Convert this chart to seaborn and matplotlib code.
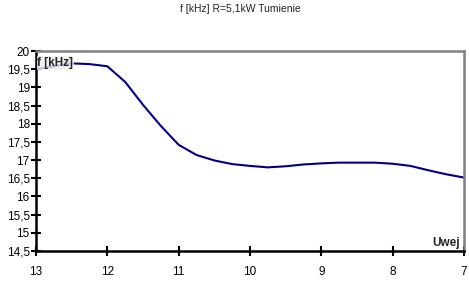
import matplotlib
matplotlib.use("Agg")
import matplotlib.pyplot as plt
import seaborn as sns
import pandas as pd

u_wej = [13, 12.75, 12.5, 12.25, 12, 11.75, 11.5, 11.25, 11, 10.75, 10.5, 10.25, 10,
         9.75, 9.5, 9.25, 9, 8.75, 8.5, 8.25, 8, 7.75, 7.5, 7.25, 7]
f_khz = [19.5, 19.58, 19.66, 19.64, 19.58, 19.15, 18.52, 17.94, 17.42, 17.14, 16.99, 16.89, 16.84,
         16.8, 16.83, 16.88, 16.91, 16.93, 16.93, 16.93, 16.9, 16.84, 16.72, 16.61, 16.52]
y_ticks = [14.5, 15, 15.5, 16, 16.5, 17, 17.5, 18, 18.5, 19, 19.5, 20]
x_ticks = [13, 12, 11, 10, 9, 8, 7]
title = "f [kHz] R=5,1kW Tumienie"

sns.set_style("white")
plt.rcParams['font.family'] = ['Liberation Sans', 'DejaVu Sans']

df = pd.DataFrame({"Uwej": u_wej, "f": f_khz})

fig = plt.figure(figsize=(4.69, 2.83), dpi=100)
ax = fig.add_axes([36/469, 32/283, (464-36)/469, 200/283])
sns.lineplot(data=df, x="Uwej", y="f", ax=ax, color="#000080", linewidth=1.5)

ax.set_xlim(13, 7)
ax.set_ylim(14.5, 20)
ax.set_xticks(x_ticks)
ax.set_xticklabels([str(v) for v in x_ticks])
ax.set_yticks(y_ticks)
ax.set_yticklabels([("%g" % v).replace(".", ",") for v in y_ticks])
ax.tick_params(axis='both', direction='inout', length=7, width=1.5, labelsize=8.5,
               colors='black', bottom=True, left=True)
ax.tick_params(axis='x', pad=7)
ax.tick_params(axis='y', pad=1)
ax.set_xlabel("")
ax.set_ylabel("")
for s in ['left', 'bottom']:
    ax.spines[s].set_color('black')
    ax.spines[s].set_linewidth(1.8)
for s in ['top', 'right']:
    ax.spines[s].set_color('#808080')
    ax.spines[s].set_linewidth(1.8)
ax.set_zorder(1)

ax.text(0.003, 0.97, "f [kHz]", transform=ax.transAxes, fontsize=8.5, fontweight='bold',
        ha='left', va='top', bbox=dict(boxstyle='square,pad=0.05', fc='#eeeeee', ec='none', alpha=0.8))
ax.text(0.99, 0.008, "Uwej", transform=ax.transAxes, fontsize=8.5, fontweight='bold',
        ha='right', va='bottom', clip_on=False, zorder=5)
fig.text(240/469, 1 - 9/283, title, fontsize=7.5, ha='center', va='center', color='#222222')

fig.savefig("out.png", dpi=100)
